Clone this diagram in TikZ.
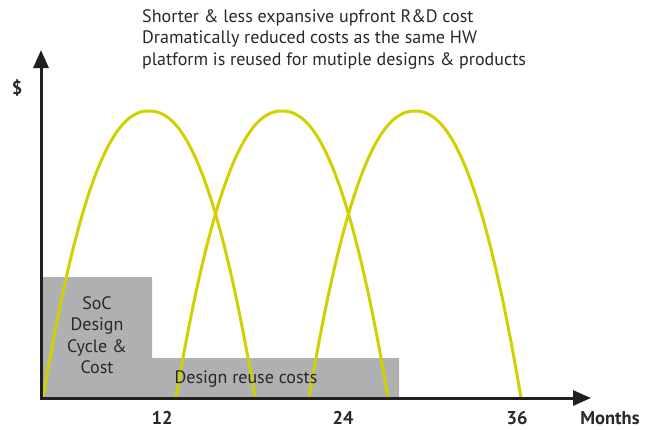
\documentclass[tikz,border=0pt]{standalone}
\usepackage{fontspec}
\setmainfont{PT Sans}
\usetikzlibrary{arrows.meta}
\definecolor{axisc}{RGB}{35,31,32}
\definecolor{curvec}{RGB}{210,208,0}
\definecolor{boxc}{RGB}{174,176,178}
\definecolor{txtc}{RGB}{40,40,40}
\tikzset{
  axisline/.style={draw=axisc, line width=3pt, -{Triangle[length=18pt,width=15pt]}},
  bell/.style={draw=curvec, line width=3pt},
  costarea/.style={fill=boxc, draw=none},
  lbl/.style={text=txtc, font=\fontsize{18}{21.5}\selectfont, inner sep=0pt},
  ticklbl/.style={text=txtc, font=\fontsize{18.5}{20}\selectfont\bfseries, inner sep=0pt},
}
\begin{document}
\begin{tikzpicture}[x=1pt,y=-1pt]
\useasboundingbox (0,0) rectangle (652,429);
% cost areas
\path[costarea] (41,398) -- (41,277) -- (152,277) -- (152,358) -- (399,358) -- (399,398) -- cycle;
% bell curves
\foreach \c in {149,282,415}{
  \draw[bell] plot[domain=-1:1, samples=100, smooth] ({\c+106*\x},{398-287*(1-abs(\x)^2.2)});
}
% texts in boxes
\node[lbl, align=center] (soc) at (97,335) {SoC\\Design\\Cycle \&\\Cost};
\node[lbl] (reuse) at (246,379) {Design reuse costs};
% axes
\coordinate (origin) at (41,398);
\coordinate (ytip) at (41,50);
\coordinate (xtip) at (591,398);
\draw[axisline] ([yshift=1.5pt]origin) -- (ytip);
\draw[axisline] ([xshift=-1.5pt]origin) -- (xtip);
% labels
\node[ticklbl] (dollar) at (17,88) {\$};
\node[ticklbl] (t12) at (162,418) {12};
\node[ticklbl] (t24) at (343,418) {24};
\node[ticklbl] (t36) at (517,418) {36};
\node[ticklbl] (months) at (610,418) {Months};
\node[lbl, align=left, anchor=north west] (title) at (142,9)
  {Shorter \& less expansive upfront R\&D cost\\Dramatically reduced costs as the same HW\\platform is reused for mutiple designs \& products};
\end{tikzpicture}
\end{document}
